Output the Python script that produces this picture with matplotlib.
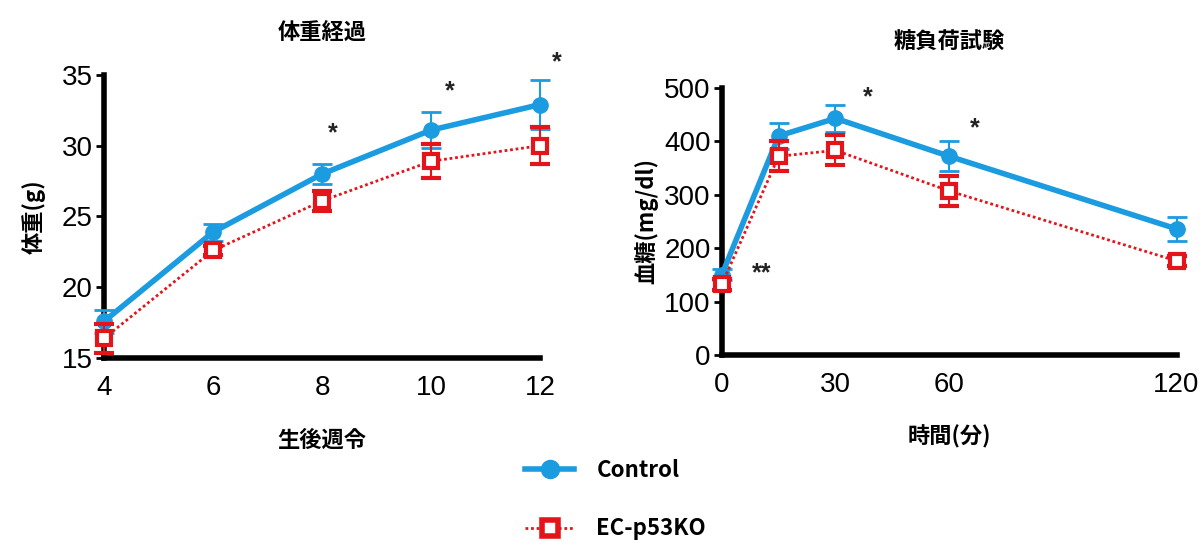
import matplotlib.pyplot as plt
from matplotlib.lines import Line2D

plt.rcParams['font.family'] = ['Liberation Sans', 'Noto Sans CJK JP', 'DejaVu Sans']

# body weight (体重経過)
weeks = [4, 6, 8, 10, 12]
bw_ctrl = [17.6, 23.9, 28.0, 31.1, 32.9]
bw_ctrl_err = [0.8, 0.6, 0.7, 1.3, 1.7]
bw_ko = [16.4, 22.6, 26.1, 28.9, 30.0]
bw_ko_err = [1.0, 0.3, 0.7, 1.2, 1.3]
bw_stars = [(8.2, 30.9, '*'), (10.35, 33.8, '*'), (12.3, 35.9, '*')]

# glucose tolerance test (糖負荷試験)
minutes = [0, 15, 30, 60, 120]
gtt_ctrl = [150, 410, 443, 372, 236]
gtt_ctrl_err = [10, 25, 25, 28, 22]
gtt_ko = [132, 372, 383, 307, 176]
gtt_ko_err = [10, 28, 28, 28, 10]
gtt_stars = [(38.6, 482, '*'), (66.8, 424, '*'), (10.5, 152, '**')]

blue = '#1b9be0'
red = '#e4141b'
cjk = ['Noto Sans CJK JP', 'DejaVu Sans']

fig = plt.figure(figsize=(12.03, 5.46), dpi=100)
ax1 = fig.add_axes([0.0865, 0.344, 0.3625, 0.519])
ax2 = fig.add_axes([0.600, 0.350, 0.378, 0.489])


def draw(ax, x, c, ce, k, ke, stars):
    ax.errorbar(x, c, yerr=ce, color=blue, lw=4, marker='o', ms=11,
                capsize=7, elinewidth=1.5, capthick=2, zorder=3, clip_on=False)
    ax.errorbar(x, k, yerr=ke, color=red, lw=2, ls=(0, (1, 1)), marker='s', ms=10,
                mfc='white', mec=red, mew=3, capsize=7, elinewidth=1.5, capthick=2,
                zorder=4, clip_on=False)
    for sx, sy, s in stars:
        ax.text(sx, sy, s, fontsize=18, fontweight='bold', ha='center', va='center',
                color='#222222', clip_on=False)
    for side in ['top', 'right']:
        ax.spines[side].set_visible(False)
    for side in ['left', 'bottom']:
        ax.spines[side].set_linewidth(4)
    ax.tick_params(axis='y', length=6, width=2, labelsize=20, pad=2)
    ax.tick_params(axis='x', length=0, labelsize=20, pad=12)


draw(ax1, weeks, bw_ctrl, bw_ctrl_err, bw_ko, bw_ko_err, bw_stars)
ax1.set_xlim(4, 12)
ax1.set_ylim(15, 35)
ax1.set_xticks(weeks)
ax1.set_yticks([15, 20, 25, 30, 35])
ax1.set_title('体重経過', family=cjk, fontsize=16, fontweight='bold', pad=26)
ax1.set_xlabel('生後週令', family=cjk, fontsize=16, fontweight='bold', labelpad=20)
ax1.set_ylabel('体重(g)', family=cjk, fontsize=16, fontweight='bold', labelpad=12)

draw(ax2, minutes, gtt_ctrl, gtt_ctrl_err, gtt_ko, gtt_ko_err, gtt_stars)
ax2.set_xlim(0, 120)
ax2.set_ylim(0, 500)
ax2.set_xticks([0, 30, 60, 120])
ax2.set_yticks([0, 100, 200, 300, 400, 500])
ax2.set_title('糖負荷試験', family=cjk, fontsize=16, fontweight='bold', pad=28)
ax2.set_xlabel('時間(分)', family=cjk, fontsize=16, fontweight='bold', labelpad=20)
ax2.set_ylabel('血糖(mg/dl)', family=cjk, fontsize=16, fontweight='bold', labelpad=4)

h_ctrl = Line2D([], [], color=blue, lw=4, marker='o', ms=13)
h_ko = Line2D([], [], color=red, lw=2, ls=(0, (1, 1)), marker='s', ms=11,
              mfc='white', mec=red, mew=4)
fig.legend([h_ctrl, h_ko], ['Control', 'EC-p53KO'], loc='center left',
           bbox_to_anchor=(0.42, 0.085), frameon=False, labelspacing=1.6,
           handlelength=2.2, handletextpad=1.0,
           prop={'family': cjk, 'size': 16, 'weight': 'bold'})

fig.savefig('out.png', dpi=100)
